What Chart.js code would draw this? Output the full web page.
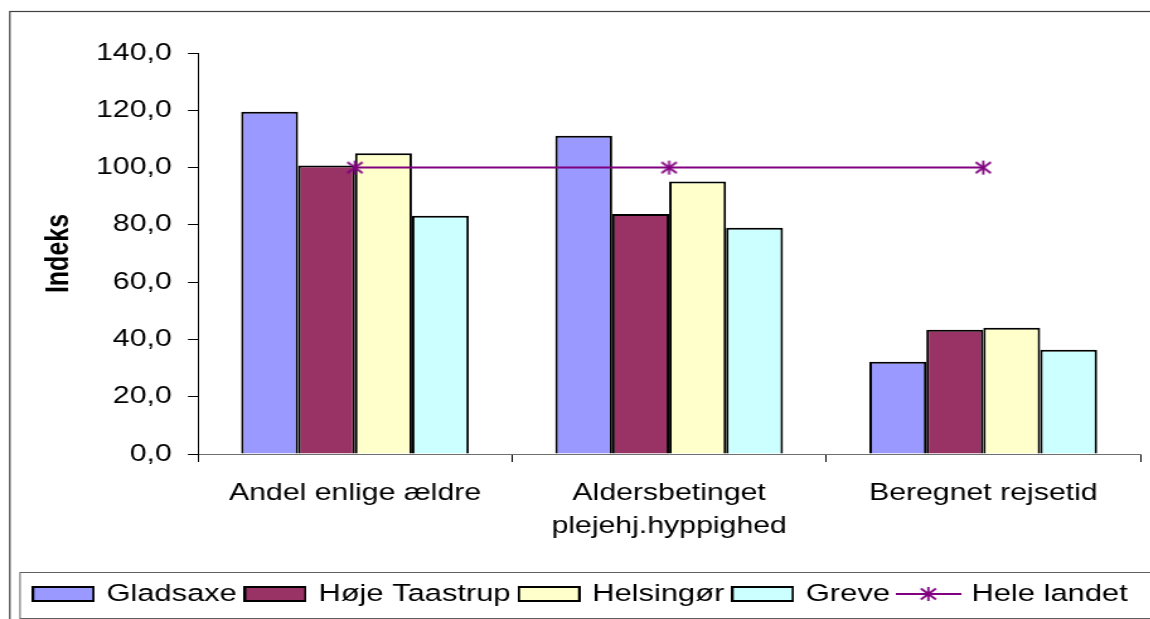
<!DOCTYPE html>
<html>
<head>
<meta charset="utf-8">
<script src="https://cdn.jsdelivr.net/npm/chart.js@4.4.1/dist/chart.umd.min.js"></script>
<style>
  html, body { margin: 0; padding: 0; background: #fff; overflow: hidden; }
  /* the reference text is drawn wide, so the chart is laid out narrow and stretched */
  #wrap { width: 913px; height: 619px; transform: scaleX(1.26); transform-origin: 0 0; }
</style>
</head>
<body>
<div id="wrap"><canvas id="chart" width="913" height="619"></canvas></div>
<script>
const categories = [["Andel enlige ældre"], ["Aldersbetinget", "plejehj.hyppighed"], ["Beregnet rejsetid"]];
const gladsaxe = [119.5, 111.1, 32.2];
const hojeTaastrup = [100.7, 83.8, 43.4];
const helsingor = [105.0, 95.1, 44.1];
const greve = [83.2, 79.0, 36.4];
const heleLandet = [100, 100, 100];
const yTickValues = [0, 20, 40, 60, 80, 100, 120, 140];

const FONT = "'Liberation Sans', Arial, sans-serif";
const PURPLE = "#800080";

Chart.defaults.font.family = FONT;
Chart.defaults.color = "#000";

// star marker like the spreadsheet one: an X with a vertical stroke
function drawStar(ctx, cx, cy) {
  ctx.strokeStyle = PURPLE;
  ctx.lineWidth = 1.8;
  ctx.beginPath();
  ctx.moveTo(cx - 6, cy - 5.5); ctx.lineTo(cx + 6, cy + 5.5);
  ctx.moveTo(cx + 6, cy - 5.5); ctx.lineTo(cx - 6, cy + 5.5);
  ctx.moveTo(cx, cy - 7); ctx.lineTo(cx, cy + 7);
  ctx.stroke();
}
const starImg = document.createElement("canvas");
starImg.width = 15; starImg.height = 16;
drawStar(starImg.getContext("2d"), 7.5, 8);

const legendLineImg = document.createElement("canvas");
legendLineImg.width = 52; legendLineImg.height = 16;
(function () {
  const c = legendLineImg.getContext("2d");
  c.strokeStyle = PURPLE; c.lineWidth = 2;
  c.beginPath(); c.moveTo(0, 8); c.lineTo(52, 8); c.stroke();
  drawStar(c, 26, 8);
})();

function swatch(color) {
  const cv = document.createElement("canvas");
  cv.width = 50; cv.height = 16;
  const c = cv.getContext("2d");
  c.fillStyle = color;
  c.fillRect(1, 1, 48, 14);
  c.strokeStyle = "#000"; c.lineWidth = 2;
  c.strokeRect(1, 1, 48, 14);
  return cv;
}

// borders around the chart and round the legend
const frames = {
  id: "frames",
  afterDraw(chart) {
    const ctx = chart.ctx;
    ctx.save();
    ctx.strokeStyle = "#404040";
    ctx.lineWidth = 1.2;
    ctx.strokeRect(7.8, 11.5, 1000, 700);
    ctx.strokeStyle = "#606060";
    ctx.lineWidth = 1;
    ctx.strokeRect(15.9, 572.5, 1000, 46);
    ctx.restore();
  }
};

const barStyle = (color) => ({ backgroundColor: color, borderColor: "#000", borderWidth: 2, borderSkipped: "start", order: 1 });

new Chart(document.getElementById("chart"), {
  type: "bar",
  data: {
    labels: categories,
    datasets: [
      { label: "Gladsaxe", data: gladsaxe, ...barStyle("#9999FF") },
      { label: "Høje Taastrup", data: hojeTaastrup, ...barStyle("#993366") },
      { label: "Helsingør", data: helsingor, ...barStyle("#FFFFCC") },
      { label: "Greve", data: greve, ...barStyle("#CCFFFF") },
      {
        type: "line", label: "Hele landet", data: heleLandet, order: 0,
        borderColor: PURPLE, borderWidth: 2, backgroundColor: PURPLE,
        pointStyle: starImg, pointRadius: 6
      }
    ]
  },
  options: {
    responsive: false,
    animation: false,
    categoryPercentage: 0.725,
    barPercentage: 1,
    layout: { padding: { left: 19.7, right: 6.7, top: 53, bottom: 2.75 } },
    plugins: {
      tooltip: { enabled: false },
      legend: {
        position: "bottom",
        align: "start",
        labels: {
          font: { size: 24.5 },
          color: "#000",
          padding: 8.5,
          boxHeight: 14,
          boxWidth: 44,
          usePointStyle: true,
          pointStyleWidth: 44,
          generateLabels(chart) {
            const items = Chart.defaults.plugins.legend.labels.generateLabels(chart);
            items.sort((a, b) => a.datasetIndex - b.datasetIndex);
            items.forEach((it) => {
              const ds = chart.data.datasets[it.datasetIndex];
              it.pointStyle = ds.type === "line" ? legendLineImg : swatch(ds.backgroundColor);
            });
            return items;
          }
        }
      }
    },
    scales: {
      x: {
        grid: { display: true, offset: true, drawOnChartArea: false, drawTicks: true, tickLength: 8, color: "#000" },
        border: { color: "#707070", width: 1 },
        ticks: { font: { size: 24, lineHeight: 1.38 }, color: "#000", padding: 14.5, maxRotation: 0, autoSkip: false },
        afterFit(scale) { scale.height = 119.25; }
      },
      y: {
        min: 0,
        max: 140,
        afterBuildTicks(scale) { scale.ticks = yTickValues.map((v) => ({ value: v })); },
        grid: { display: true, drawOnChartArea: false, drawTicks: true, tickLength: 8, color: "#000" },
        border: { color: "#000", width: 1 },
        ticks: {
          font: { size: 24 }, color: "#000", padding: 12.8,
          callback: (v) => v.toFixed(1).replace(".", ",")
        },
        title: {
          display: true, text: "Indeks", color: "#000",
          font: { size: 25, weight: "bold" },
          padding: { top: 12.9, bottom: 0 }
        },
        afterFit(scale) { scale.width = 137.4; }
      }
    }
  },
  plugins: [frames]
});
</script>
</body>
</html>
